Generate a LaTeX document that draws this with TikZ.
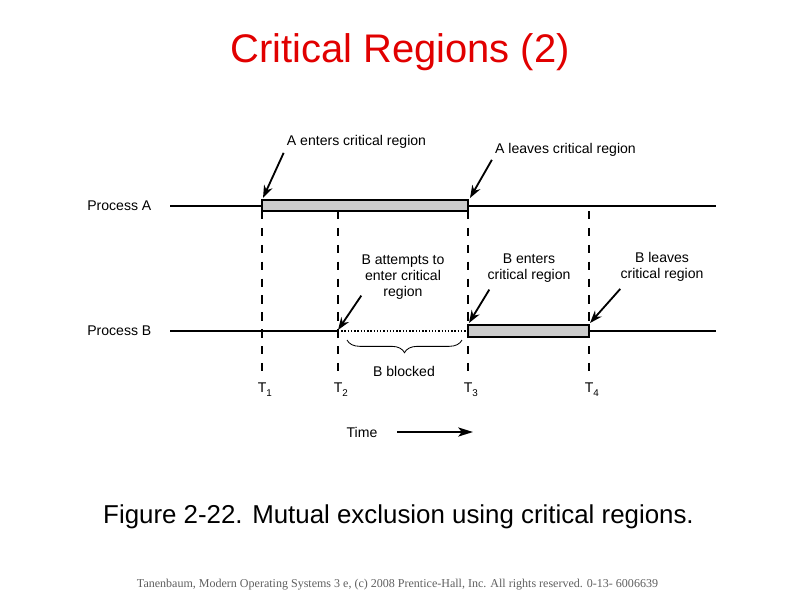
\documentclass[tikz,border=0pt]{standalone}
\usepackage{fontspec}
\setmainfont{Liberation Sans}
\newfontfamily\footfont{Liberation Serif}
\usetikzlibrary{positioning,arrows.meta,decorations.pathreplacing}

\definecolor{titlered}{RGB}{225,0,0}
\definecolor{barfill}{RGB}{204,204,204}
\definecolor{footgray}{RGB}{95,95,95}

\tikzset{
	lbl/.style={font=\fontsize{10}{11.4}\selectfont, align=center, inner sep=0pt},
	timeline/.style={line width=0.8pt},
	crit/.style={draw, line width=1.2pt, fill=barfill},
	marker/.style={line width=0.9pt, dash pattern=on 6pt off 6pt},
	pointer/.style={line width=1.3pt, -{Stealth[length=9pt,width=6.5pt]}},
}

\newcommand{\tmark}[1]{T\raisebox{-0.6ex}{\fontsize{7}{8}\selectfont #1}}

\begin{document}
\begin{tikzpicture}[x=0.025cm, y=-0.025cm]
	\useasboundingbox (0,0) rectangle (800,600);

	\node[font=\fontsize{28.4}{32}\selectfont, text=titlered] (title) at (400,52) {Critical Regions (2)};

	% time points
	\coordinate (a0) at (170,206);
	\coordinate (a1) at (262,206);
	\coordinate (a3) at (468,206);
	\coordinate (afin) at (716,206);
	\coordinate (b0) at (170,331);
	\coordinate (b2) at (338,331);
	\coordinate (b3) at (468,331);
	\coordinate (b4) at (589,331);
	\coordinate (bfin) at (716,331);

	\node[lbl, anchor=west] (procA) at (87,206) {Process A};
	\node[lbl, anchor=west] (procB) at (87,331) {Process B};

	% dashed markers
	\draw[marker] (262,211) -- (262,378);
	\draw[marker] (338,211) -- (338,378);
	\draw[marker] (468,211) -- (468,378);
	\draw[marker] (589,211) -- (589,378);

	\node[lbl, anchor=base west] (t1) at (257.5,392) {\tmark{1}};
	\node[lbl, anchor=base west] (t2) at (333.5,392) {\tmark{2}};
	\node[lbl, anchor=base west] (t3) at (463.5,392) {\tmark{3}};
	\node[lbl, anchor=base west] (t4) at (584.5,392) {\tmark{4}};

	% process A
	\draw[timeline] (a0) -- (a1);
	\draw[timeline] (a3) -- (afin);
	\draw[crit] (262,200) coordinate (atl) rectangle (468,211);
	\coordinate (atr) at (468,200);

	% process B
	\draw[timeline] (b0) -- (b2);
	\draw[line width=1pt, dash pattern=on 1pt off 1.3pt] (b2) -- (b3);
	\draw[timeline] (b4) -- (bfin);
	\draw[crit] (468,325) coordinate (btl) rectangle (589,337);
	\coordinate (btr) at (589,325);

	% callouts
	\node[lbl] (aenter) at (356.5,142) {A enters critical region};
	\node[lbl] (aleave) at (565.5,150) {A leaves critical region};
	\node[lbl] (btry) at (403,277) {B attempts to\\enter critical\\region};
	\node[lbl] (benter) at (529,268) {B enters\\critical region};
	\node[lbl] (bleave) at (662,267) {B leaves\\critical region};

	\draw[pointer] ([shift={(-3,4)}]aenter.south west) -- ([shift={(1,-2)}]atl);
	\draw[pointer] ([shift={(-3,3)}]aleave.south west) -- ([shift={(2,-2)}]atr);
	\draw[pointer] ([shift={(0,-4)}]btry.south west) -- ([shift={(0,-1)}]b2);
	\draw[pointer] ([shift={(2,7)}]benter.south west) -- ([shift={(1,-2)}]btl);
	\draw[pointer] ([shift={(0,7)}]bleave.south west) -- ([shift={(1,-2)}]btr);

	\draw[line width=0.6pt, decorate, decoration={brace, mirror, amplitude=9pt}]
		(347,340) -- (462,340);
	\node[lbl] (blocked) at (404,371) {B blocked};

	\node[lbl] (time) at (362,432) {Time};
	\coordinate (tend) at (473,432);
	\draw[line width=1.2pt, -{Stealth[length=10.5pt,width=6.5pt,inset=2.5pt]}]
		([xshift=14]time.east) -- (tend);

	\node[font=\fontsize{18.4}{22}\selectfont] (caption) at (398.5,517)
		{Figure 2-22. Mutual exclusion using critical regions.};
	\node[font=\footfont\fontsize{8.55}{10}\selectfont, text=footgray] (credit) at (397.5,585)
		{Tanenbaum, Modern Operating Systems 3 e, (c) 2008 Prentice-Hall, Inc. All rights reserved. 0-13- 6006639};
\end{tikzpicture}
\end{document}
